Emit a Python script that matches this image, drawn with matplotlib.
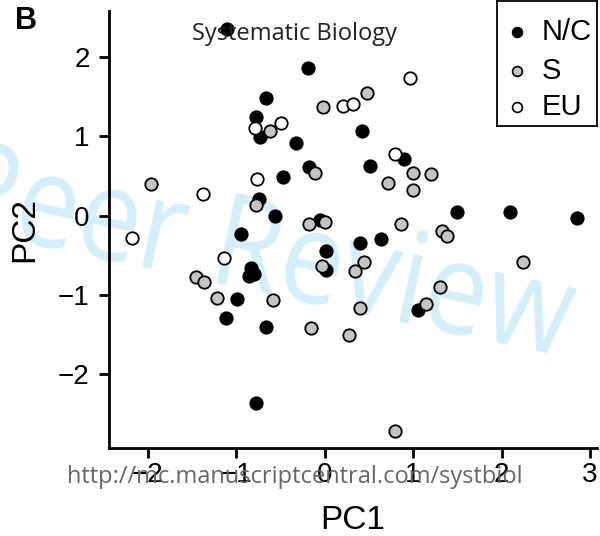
import matplotlib
matplotlib.use("Agg")
from matplotlib import pyplot as plt
from matplotlib.textpath import TextPath
from matplotlib.patches import PathPatch
from matplotlib.font_manager import FontProperties
from matplotlib.transforms import Affine2D

# PC scores
nc_x = [-1.10, -0.19, -0.66, -0.78, -0.73, -0.33, -0.18, -0.47, -0.74, -0.56,
        -0.05, -0.95, 0.42, 0.90, 0.51, 1.50, 2.10, 2.85, 0.40, 0.64,
        0.01, 0.02, -0.83, -0.86, -0.80, -0.99, -1.12, -0.66, -0.78, 1.05]
nc_y = [2.35, 1.86, 1.48, 1.24, 0.99, 0.91, 0.61, 0.49, 0.21, 0.00,
        -0.05, -0.23, 1.07, 0.72, 0.62, 0.05, 0.05, -0.03, -0.35, -0.30,
        -0.44, -0.68, -0.66, -0.76, -0.73, -1.05, -1.29, -1.40, -2.36, -1.19]

s_x = [-0.02, -0.62, -0.11, -1.96, -0.78, -0.18, 0.00, 0.48, 1.00, 1.20,
       0.72, 1.00, 0.86, 1.33, 1.38, -1.46, -1.37, -1.22, -0.59, -0.15,
       0.28, -0.03, 0.45, 0.34, 2.24, 1.30, 1.15, 0.40, 0.80]
s_y = [1.37, 1.07, 0.54, 0.40, 0.14, -0.11, -0.08, 1.54, 0.54, 0.52,
       0.41, 0.32, -0.11, -0.20, -0.26, -0.77, -0.84, -1.04, -1.07, -1.42,
       -1.51, -0.63, -0.59, -0.70, -0.58, -0.90, -1.12, -1.17, -2.71]

eu_x = [0.21, -0.79, -0.49, -0.77, -1.38, -2.18, 0.96, 0.32, 0.79, -1.14]
eu_y = [1.38, 1.11, 1.17, 0.46, 0.27, -0.28, 1.73, 1.41, 0.78, -0.53]

groups = ["N/C", "S", "EU"]
colors = ["black", "#c4c4c4", "white"]
xticks = [-2, -1, 0, 1, 2, 3]
yticks = [-2, -1, 0, 1, 2]

plt.rcParams["font.family"] = ["Liberation Sans", "DejaVu Sans"]

fig = plt.figure(figsize=(6, 5.36), dpi=100)
ax = fig.add_axes([109 / 600, 1 - 448 / 536, (597 - 109) / 600, (448 - 11) / 536])
ax.patch.set_alpha(0)

# watermark: slightly condensed text, behind everything
wm = TextPath((0, 0), "Peer Review", size=1, prop=FontProperties(family="Open Sans"))
wm_tr = Affine2D().scale(1.12, 1.29).rotate_deg(-12).translate(-0.56, 3.11)
fig.add_artist(PathPatch(wm, transform=wm_tr + fig.dpi_scale_trans,
                         facecolor="#d4eefa", edgecolor="none", zorder=-5))

kw = dict(s=80, edgecolors="black", linewidths=1.3, zorder=3)
ax.scatter(nc_x, nc_y, c=colors[0], **kw)
ax.scatter(s_x, s_y, c=colors[1], **kw)
ax.scatter(eu_x, eu_y, c=colors[2], **kw)

ax.set_xlim(-2.44, 3.08)
ax.set_ylim(-2.93, 2.58)
ax.set_xticks(xticks)
ax.set_yticks(yticks)
ax.tick_params(labelsize=20, width=2, length=7, direction="out", pad=3)
ax.tick_params(axis="y", pad=7)
for side in ["top", "right"]:
    ax.spines[side].set_visible(False)
for side in ["left", "bottom"]:
    ax.spines[side].set_linewidth(2)
ax.set_xlabel("PC1", fontsize=24, labelpad=12)
ax.set_ylabel("PC2", fontsize=24, labelpad=13)

# legend box drawn as a small axes, R style
lax = fig.add_axes([497 / 600, 1 - 126 / 536, 100 / 600, 125 / 536])
lax.set_xlim(0, 1)
lax.set_ylim(0, 1)
lax.set_xticks([])
lax.set_yticks([])
for sp in lax.spines.values():
    sp.set_linewidth(1.3)
rows = [0.75, 0.44, 0.15]
for g, c, r in zip(groups, colors, rows):
    lax.scatter([0.2], [r], s=50, c=c, edgecolors="black", linewidths=1.2)
    lax.text(0.45, r, g, fontsize=21, va="center", ha="left", clip_on=False)

fig.text(26 / 600, 1 - 21 / 536, "B", fontsize=22, fontweight="bold",
         ha="center", va="center")
fig.text(295 / 600, 1 - 34 / 536, "Systematic Biology", fontsize=17,
         family="Open Sans", color="#222222", ha="center", va="center", zorder=6)
fig.text(295 / 600, 1 - 483 / 536, "http://mc.manuscriptcentral.com/systbiol",
         fontsize=17, family="Open Sans", color="#666666", ha="center",
         va="baseline", zorder=6)

fig.savefig("out.png", dpi=100)
